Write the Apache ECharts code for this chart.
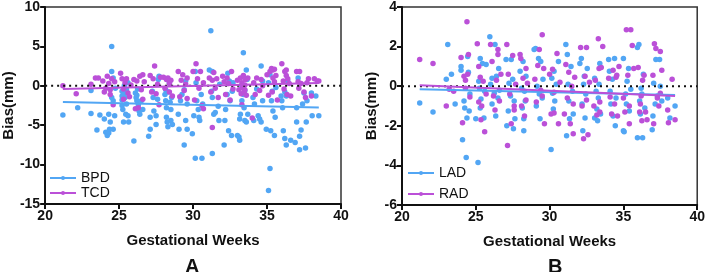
<!DOCTYPE html>
<html><head><meta charset="utf-8">
<script src="https://cdn.jsdelivr.net/npm/echarts@6/dist/echarts.min.js"></script>
<style>html,body{margin:0;padding:0;background:#fff}#c{width:708px;height:272px}</style>
</head><body><div id="c"></div>
<script>
const xTicksLabel = [20, 25, 30, 35, 40];
const yTicksA = [10, 5, 0, -5, -10, -15];
const yTicksB = [4, 2, 0, -2, -4, -6];
const seriesNamesA = ['BPD', 'TCD'];
const seriesNamesB = ['LAD', 'RAD'];
const panelLabels = ['A', 'B'];

const bpd = [[21.2,-3.7],[22.2,-2.8],[23.1,-0.6],[23.1,-3.5],[23.5,-5.6],[23.7,-3.7],[24.0,-4.2],[24.1,-5.9],[24.2,-6.3],[24.3,-6.0],[24.35,-5.5],[24.4,-4.6],[24.3,-3.6],[24.5,1.8],[24.5,5.0],[24.6,1.0],[24.6,-1.9],[24.7,-3.8],[24.5,-1.5],[24.75,-0.3],[24.6,-5.5],
[25.2,-0.7],[25.2,-1.3],[25.2,-1.8],[25.2,-2.5],[25.25,-3.0],[25.3,-4.6],[25.35,0.0],[25.4,-0.9],[25.4,-1.5],[25.5,-2.3],[25.45,-3.6],[25.6,-3.8],[25.65,-4.6],[25.6,0.4],[25.3,-1.1],[25.5,-0.5],
[26.0,-7.0],[26.1,-0.9],[26.15,-1.5],[26.2,-1.9],[26.25,-0.4],[26.3,-2.4],[26.35,-3.2],[26.4,-3.6],[26.5,-1.9],[26.6,-3.0],[26.2,-1.2],
[27.0,-6.4],[27.1,-5.5],[27.1,-4.0],[27.3,-1.5],[27.25,-0.7],[27.35,-3.2],[27.5,-4.9],[27.5,-3.8],[27.6,-1.7],[27.65,0.8],[27.7,1.2],
[28.15,-0.5],[28.1,-1.1],[28.15,-1.9],[28.2,-2.8],[28.2,-4.0],[28.25,-4.6],[28.3,-5.2],[28.4,0.4],[28.45,-2.1],[28.5,-3.0],[28.5,-4.4],[28.6,-4.9],[28.55,-1.5],[28.3,-0.8],
[29.0,-3.6],[29.05,-5.5],[29.15,-1.9],[29.25,-1.1],[29.4,-0.5],[29.4,-7.5],[29.5,-4.4],[29.6,-5.5],[29.5,0.6],[29.6,-2.3],
[29.95,-6.1],[30.05,-3.8],[30.15,1.8],[30.2,0.4],[30.15,-9.2],[30.25,-1.9],[30.35,-3.0],[30.4,-4.0],[30.45,-4.4],[30.6,-9.2],[30.55,-1.1],[30.65,-2.3],
[31.2,7.0],[31.1,2.0],[31.3,1.8],[31.3,-8.6],[31.25,-0.7],[31.3,-1.5],[31.4,-3.6],[31.5,-3.4],[31.7,-2.6],[31.75,-4.4],[31.8,0.2],
[32.1,-7.5],[32.15,-4.4],[32.2,-3.0],[32.3,-1.1],[32.35,1.6],[32.4,-5.7],[32.45,0.6],[32.5,-1.9],[32.6,-6.3],[32.65,-0.7],[32.7,0.4],
[33.0,-6.3],[33.1,-6.5],[33.15,-6.9],[33.15,-4.2],[33.2,-3.6],[33.3,-1.9],[33.3,0.0],[33.4,4.2],[33.4,-1.1],[33.45,-2.8],[33.5,-4.4],[33.6,-4.6],[33.6,2.0],[33.65,0.8],[33.7,-3.6],[33.5,-0.6],
[34.05,-1.5],[34.1,-4.4],[34.15,-2.3],[34.3,-0.4],[34.4,-3.8],[34.5,-4.2],[34.6,2.5],[34.6,-4.6],[34.7,-1.9],[34.7,0.6],
[34.95,-5.5],[35.1,0.4],[35.2,-10.5],[35.1,-13.3],[35.25,-5.7],[35.3,-1.9],[35.35,-0.7],[35.4,-3.2],[35.5,-6.3],[35.55,-4.0],[35.6,-0.2],[35.2,1.4],
[35.95,-1.3],[36.0,-1.9],[36.05,-2.8],[36.1,-5.7],[36.2,-6.7],[36.3,-7.5],[36.3,-1.3],[36.4,0.6],[36.6,-6.9],[36.2,-0.8],
[36.9,-7.2],[37.0,-4.6],[37.0,-2.8],[37.1,1.0],[37.2,-8.1],[37.2,-6.4],[37.3,-5.6],[37.4,-2.3],[37.5,-0.9],[37.6,-7.9],[37.65,-4.6],[37.7,-1.9],
[38.0,-0.9],[38.05,-3.8],[38.3,-1.3],[38.5,-3.8]];

const tcd = [[21.2,0.0],[22.1,-1.0],[23.1,0.2],[23.4,1.0],[23.6,1.0],[23.9,0.6],[24.0,-0.8],[24.1,-0.3],[24.2,1.2],[24.3,0.3],[24.4,-1.1],[24.5,0.9],[24.6,-2.4],[24.7,0.5],[24.4,-0.5],
[25.1,1.6],[25.2,0.9],[25.3,-0.4],[25.3,-1.7],[25.4,0.4],[25.5,0.9],[25.6,-0.9],[25.7,-1.4],[25.8,0.1],
[26.0,0.8],[26.1,-2.9],[26.2,0.6],[26.3,-2.8],[26.4,1.2],[26.5,-0.5],[26.6,-1.7],[26.7,0.5],[26.6,1.4],
[27.1,1.3],[27.2,-0.8],[27.3,0.9],[27.4,2.5],[27.5,-1.0],[27.6,0.2],[27.8,1.1],[27.7,-2.4],
[28.0,1.1],[28.1,-0.3],[28.2,0.8],[28.3,1.0],[28.4,-0.8],[28.4,0.3],[28.6,-1.3],[28.5,0.7],
[29.0,1.8],[29.1,-1.4],[29.2,0.7],[29.3,1.4],[29.4,-0.6],[29.5,0.2],[29.6,-1.6],[29.6,1.0],
[30.0,1.8],[30.1,-1.8],[30.2,2.8],[30.3,0.9],[30.4,-0.3],[30.5,1.8],[30.6,-2.5],[30.7,0.4],[30.7,-2.9],
[31.1,1.0],[31.2,-0.8],[31.3,-5.3],[31.3,0.7],[31.4,1.7],[31.5,-0.3],[31.6,0.9],[31.7,-1.5],
[32.0,1.2],[32.1,0.5],[32.2,-1.1],[32.3,1.0],[32.4,0.3],[32.6,1.8],[32.7,-0.4],[32.5,-1.8],
[33.0,0.7],[33.1,-0.5],[33.2,1.0],[33.25,-1.0],[33.3,0.4],[33.35,-0.2],[33.4,1.3],[33.45,-0.8],[33.5,0.1],[33.55,0.8],[33.6,-1.2],[33.7,1.0],[33.3,-2.4],[33.5,-0.5],
[34.0,-4.1],[34.1,0.4],[34.2,-1.1],[34.3,1.0],[34.5,-0.6],[34.6,0.8],[34.7,0.0],
[35.0,1.4],[35.1,-1.2],[35.2,1.8],[35.3,2.2],[35.35,-0.8],[35.4,2.0],[35.5,2.1],[35.5,0.5],[35.6,1.3],[35.7,-1.8],[35.4,1.0],
[36.0,2.8],[36.1,0.6],[36.15,-0.4],[36.2,1.8],[36.3,1.3],[36.35,-1.1],[36.4,0.9],[36.5,0.3],[36.6,-1.3],[36.3,2.0],
[37.0,1.8],[37.1,0.5],[37.15,-0.3],[37.2,1.8],[37.3,0.3],[37.5,-0.8],[37.6,-1.5],[37.7,0.4],[37.8,0.9],
[38.0,-1.3],[38.2,0.9],[38.4,0.6],[38.5,0.6]];

const lad = [[21.2,-0.85],[22.1,-1.3],[23.1,2.1],[23.0,0.35],[23.35,0.6],[23.6,-0.9],[24.0,1.0],[24.0,0.8],[24.1,-2.7],[24.2,-0.75],[24.25,-1.1],[24.35,-3.6],[24.4,-1.6],[24.45,1.5],[24.5,0.7],[24.6,-0.4],[24.55,-1.25],
[25.0,-1.65],[25.15,-3.85],[25.2,0.25],[25.25,-0.1],[25.3,1.4],[25.3,-1.1],[25.35,-0.65],[25.45,1.15],[25.55,-1.6],[25.6,-0.25],[25.7,1.1],
[25.95,2.5],[26.0,0.1],[26.1,-0.9],[26.1,0.4],[26.25,-0.35],[26.3,2.1],[26.35,-1.5],[26.4,0.5],[26.5,-0.6],[26.55,0.9],[26.6,-0.2],
[27.05,1.35],[27.1,-2.0],[27.2,-1.25],[27.25,0.15],[27.35,-0.5],[27.4,1.35],[27.5,0.35],[27.55,-2.15],[27.6,-0.75],[27.65,-1.65],
[28.0,0.75],[28.1,-0.1],[28.15,-1.1],[28.2,1.25],[28.25,-2.25],[28.25,-1.65],[28.3,-0.25],[28.35,-0.75],[28.4,0.5],
[28.95,1.85],[29.05,1.9],[29.1,-1.0],[29.15,0.0],[29.25,1.4],[29.3,-0.4],[29.35,-1.65],[29.4,1.25],[29.5,-0.6],[29.55,0.35],
[30.1,-3.2],[30.15,0.4],[30.2,-0.35],[30.25,-1.15],[30.3,0.75],[30.35,-0.75],[30.45,0.1],[30.6,1.25],
[31.1,2.1],[31.15,-2.5],[31.2,1.6],[31.25,0.1],[31.3,-0.75],[31.35,-1.65],[31.45,1.0],[31.55,-0.25],[31.6,-1.4],
[32.05,1.15],[32.15,1.4],[32.2,-0.9],[32.25,-2.25],[32.3,0.1],[32.35,0.5],[32.4,-1.6],[32.45,-0.4],[32.55,0.9],
[33.05,-1.6],[33.05,0.4],[33.15,-0.25],[33.2,-1.15],[33.25,-1.75],[33.3,-0.6],[33.35,0.1],[33.4,1.15],[33.45,-1.4],
[34.0,1.35],[34.05,0.75],[34.1,-0.25],[34.15,-0.9],[34.25,0.35],[34.3,-1.5],[34.4,1.4],[34.45,-2.0],[34.5,-0.6],
[35.0,1.4],[35.0,-2.25],[35.05,-2.3],[35.15,-0.4],[35.2,-0.9],[35.25,0.25],[35.35,0.9],[35.4,-1.25],[35.5,-0.15],
[35.95,1.95],[36.05,2.1],[35.95,-2.6],[36.3,-2.6],[36.1,-0.75],[36.15,-1.4],[36.2,-0.1],[36.25,-0.4],[36.35,0.6],[36.45,-1.1],
[36.95,-2.2],[37.0,-1.5],[37.05,0.15],[37.15,-0.9],[37.2,1.35],[37.3,-0.5],[37.45,1.35],[37.5,0.0],[37.6,-0.75],
[38.0,-0.6],[38.15,-1.6],[38.5,-1.0]];

const rad = [[21.2,1.35],[22.1,1.15],[23.0,-1.0],[23.2,-0.15],[23.5,-0.25],[24.0,1.45],[24.1,-1.85],[24.2,0.5],[24.3,-0.1],[24.4,3.25],[24.45,0.6],[24.5,1.6],[24.6,-0.55],[24.3,0.3],
[25.1,2.15],[25.2,-0.8],[25.3,0.45],[25.35,-1.7],[25.4,-1.0],[25.5,0.25],[25.6,-2.3],[25.7,-0.4],[25.2,1.0],
[26.0,2.1],[26.1,1.25],[26.2,-0.5],[26.3,-1.2],[26.4,0.3],[26.5,1.85],[26.5,1.6],[26.6,-0.75],[26.7,0.6],
[27.1,2.1],[27.15,-3.0],[27.2,0.6],[27.3,-0.4],[27.5,1.55],[27.6,-1.0],[27.7,0.1],[27.4,-1.9],[27.6,-1.2],
[28.0,1.6],[28.05,1.4],[28.1,-1.0],[28.2,0.4],[28.3,-1.5],[28.4,0.9],[28.4,-0.7],[28.5,0.15],
[29.0,0.35],[29.1,-0.8],[29.2,1.05],[29.3,1.85],[29.5,2.6],[29.5,-0.5],[29.6,0.9],[29.65,-1.9],[29.4,-0.2],
[30.0,0.6],[30.1,-1.4],[30.2,0.85],[30.3,-0.3],[30.5,1.65],[30.6,-1.9],[30.7,0.2],[30.3,-1.35],
[31.0,-1.4],[31.1,1.1],[31.2,-0.6],[31.3,0.7],[31.4,-1.9],[31.5,0.0],[31.6,-2.4],[31.7,0.45],[31.6,-0.9],
[32.1,1.95],[32.2,-1.0],[32.3,-2.65],[32.4,0.5],[32.5,1.95],[32.6,-2.45],[32.5,-0.7],[32.7,0.2],
[33.0,-1.0],[33.1,0.3],[33.2,-1.45],[33.3,2.4],[33.35,0.9],[33.4,-0.8],[33.5,0.95],[33.6,2.0],[33.4,-1.3],
[34.0,0.4],[34.1,-0.55],[34.2,-1.4],[34.3,0.8],[34.4,-0.9],[34.5,0.45],[34.6,-1.5],[34.7,1.0],[34.55,0.55],
[35.0,-0.6],[35.1,-1.3],[35.2,2.85],[35.3,0.55],[35.4,-1.0],[35.5,2.85],[35.6,2.05],[35.7,0.9],[35.4,-1.9],
[36.0,0.95],[36.1,-1.3],[36.2,-0.5],[36.25,-1.75],[36.3,0.3],[36.4,0.55],[36.5,-1.3],[36.6,-1.7],[36.15,-0.9],
[37.0,0.55],[37.05,-1.9],[37.1,2.15],[37.2,1.9],[37.3,-0.6],[37.4,-1.0],[37.5,1.75],[37.6,0.8],[37.5,-0.35],
[38.0,-1.2],[38.05,-1.85],[38.3,0.35],[38.5,-1.7]];

const fitBPD = [[21.2,-2.05],[38.5,-2.75]];
const fitTCD = [[21.2,-0.4],[38.5,0.35]];
const fitLAD = [[21.2,-0.15],[38.5,-0.45]];
const fitRAD = [[21.2,0.05],[38.5,-0.5]];
const zeroLine = [[20,0],[40,0]];

const BLUE = '#52a6f4';
const PURPLE = '#bb50d8';
const FONT = 'Liberation Sans';

function xAx(gi){
  return {type:'value', gridIndex:gi, min:xTicksLabel[0], max:xTicksLabel[xTicksLabel.length-1], interval:5,
    name:'Gestational Weeks', nameLocation:'middle', nameGap:29,
    nameTextStyle:{fontFamily:FONT, fontWeight:'bold', fontSize:15, color:'#111'},
    axisLine:{onZero:false, lineStyle:{color:'#111', width:2}},
    axisTick:{show:true, length:5, lineStyle:{color:'#111', width:2}},
    axisLabel:{fontFamily:FONT, fontWeight:'bold', fontSize:14, color:'#111', margin:5},
    splitLine:{show:false}};
}
function yAx(gi, ticks){
  return {type:'value', gridIndex:gi, min:ticks[ticks.length-1], max:ticks[0], interval:ticks[0]-ticks[1],
    name:'Bias(mm)', nameLocation:'middle', nameGap:gi===0?25:23, nameRotate:90,
    nameTextStyle:{fontFamily:FONT, fontWeight:'bold', fontSize:15, color:'#111'},
    axisLine:{onZero:false, lineStyle:{color:'#111', width:2}},
    axisTick:{show:true, length:5, lineStyle:{color:'#111', width:2}},
    axisLabel:{fontFamily:FONT, fontWeight:'bold', fontSize:14, color:'#111', margin:5},
    splitLine:{show:false}};
}
function scat(name, data, color, gi){
  return {type:'scatter', name, data, xAxisIndex:gi, yAxisIndex:gi, symbol:'circle', symbolSize:5.5,
    itemStyle:{color, opacity:1}, z:2, silent:true};
}
function fit(name, data, color, gi){
  return {type:'line', name, data, xAxisIndex:gi, yAxisIndex:gi, symbol:'circle', symbolSize:5, showSymbol:false,
    lineStyle:{color, width:2}, itemStyle:{color}, z:4, silent:true};
}
function zero(gi){
  return {type:'line', name:'zero'+gi, data:zeroLine, xAxisIndex:gi, yAxisIndex:gi, symbol:'none',
    lineStyle:{color:'#111', width:2, type:[2,4]}, z:3, silent:true};
}
function legend(names, left, top, gap){
  return {data:names, orient:'vertical', left, top, itemWidth:26, itemHeight:5, itemGap:gap, padding:0,
    textStyle:{fontFamily:FONT, fontSize:14, lineHeight:14, color:'#111'}, selectedMode:false};
}

const chart = echarts.init(document.getElementById('c'), null, {renderer:'canvas'});
chart.setOption({
  animation:false,
  backgroundColor:'#fff',
  grid:[
    {left:42, top:5, width:299, height:199, show:true, borderColor:'#333', borderWidth:1.5, backgroundColor:'transparent'},
    {left:402, top:5, width:300, height:200, show:true, borderColor:'#333', borderWidth:1.5, backgroundColor:'transparent'}
  ],
  title:[
    {text:panelLabels[0], left:180, top:252, textStyle:{fontFamily:FONT, fontWeight:'bold', fontSize:20, color:'#111'}},
    {text:panelLabels[1], left:543, top:252, textStyle:{fontFamily:FONT, fontWeight:'bold', fontSize:20, color:'#111'}}
  ],
  legend:[legend(seriesNamesA, 49, 171, 1), legend(seriesNamesB, 407, 166, 7)],
  xAxis:[xAx(0), xAx(1)],
  yAxis:[yAx(0, yTicksA), yAx(1, yTicksB)],
  series:[
    fit(seriesNamesA[0], fitBPD, BLUE, 0),
    fit(seriesNamesA[1], fitTCD, PURPLE, 0),
    scat(seriesNamesA[0], bpd, BLUE, 0),
    scat(seriesNamesA[1], tcd, PURPLE, 0),
    zero(0),
    fit(seriesNamesB[0], fitLAD, BLUE, 1),
    fit(seriesNamesB[1], fitRAD, PURPLE, 1),
    scat(seriesNamesB[0], lad, BLUE, 1),
    scat(seriesNamesB[1], rad, PURPLE, 1),
    zero(1)
  ]
});
</script></body></html>
